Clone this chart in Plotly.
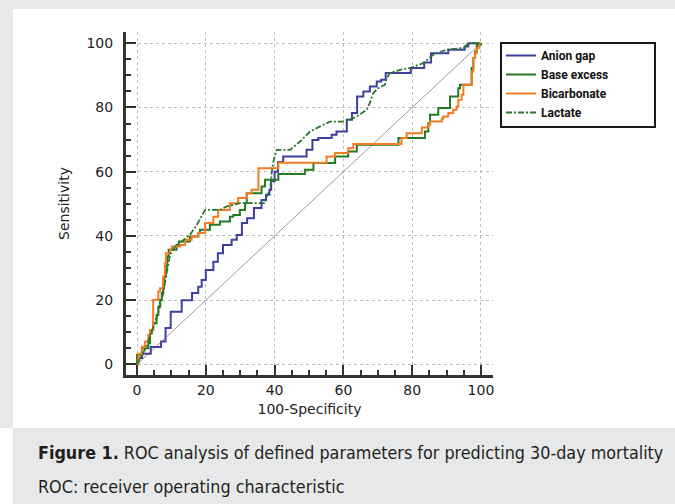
import plotly.graph_objects as go

# ---------------- data ----------------
anion_x = [0, 0, 1.5, 4, 7, 8.3, 9.8, 13, 16, 17.8, 18.8, 20, 22.2, 23.5, 25, 27.5, 29, 30.5, 32, 34,
           36.2, 37.5, 38.5, 39, 40, 41, 42.5, 49.3, 51, 52.7, 56.6, 58, 61, 62.5, 64, 65.8, 67.7, 69.7,
           71, 72.3, 79.6, 83.5, 85.5, 90.5, 95.3, 96.3, 100]
anion_y = [0, 2, 3.3, 5.4, 7.1, 11.3, 16.4, 20, 22.2, 24.2, 26.3, 29.4, 32, 34.6, 37.2, 38.8, 40.3, 44, 45.5, 48.7,
           51.2, 52.8, 54.4, 57, 60, 63, 64.7, 66.8, 69.9, 70.5, 71.5, 72.5, 76.2, 78.3, 83.4, 85, 86.5, 88.1,
           88.6, 90.7, 92.3, 94, 96.9, 98, 99, 100, 100]

base_x = [0, 0, 1.4, 3.3, 3.8, 4.3, 4.7, 5.7, 6.2, 6.7, 7.2, 7.6, 7.9, 8.4, 8.8, 9.2, 11.5, 12.2, 15.4, 17.8,
          18.3, 21.2, 24.1, 27, 28, 29.9, 31.4, 31.9, 36.2, 37.2, 41.1, 48.8, 51.3, 57.6, 61.4, 63.9, 76,
          83.7, 84.7, 85.2, 87.6, 91, 93.4, 93.9, 97.3, 97.8, 98.3, 98.8, 100]
base_y = [0, 3, 5, 6.6, 9.7, 10.7, 12.8, 15.4, 18, 20.1, 22.2, 24.2, 27.4, 30.5, 33.6, 35.7, 37.2, 38.3, 39.8, 40.9,
          41.9, 43.5, 44.5, 46, 46.5, 48.1, 50.2, 53.3, 55.4, 57.5, 59.3, 60.6, 62.7, 64.7, 66.3, 68.4, 70.5,
          72.5, 75.1, 77.7, 79.8, 83.4, 86, 87.1, 92.3, 95.4, 97.4, 99.5, 100]

bicarb_x = [0, 0.4, 1.4, 2.3, 3.3, 3.8, 4.7, 6.2, 6.7, 7.6, 8.1, 8.4, 9.6, 10.1, 12.5, 14, 15.9, 17.8, 19.8,
            22.2, 23.6, 27, 29.4, 31.9, 33.3, 35.3, 41.1, 55.1, 57.6, 61.4, 62.9, 76.9, 78.4, 82.8, 84.7, 85.2,
            88.6, 89, 90.5, 91.9, 92.9, 93.4, 94.4, 94.9, 97.3, 97.8, 98.3, 98.8, 99.5, 100]
bicarb_y = [0, 3.3, 5.5, 7.1, 9.2, 10.7, 20.1, 22.7, 23.7, 27.4, 31.5, 34.6, 35.7, 36.7, 37.2, 38.8, 39.8, 40.9, 44,
            46, 48.1, 50.2, 51.8, 53.3, 54.4, 61.1, 62.8, 64.7, 65.8, 67.3, 68.6, 70.5, 72, 73.8, 74.6, 75.6,
            76.5, 77.2, 78.3, 79.3, 80.3, 82.4, 84, 87.1, 91.2, 95.4, 96.9, 98.5, 100, 100]

lact_x = [0, 1, 1.8, 3, 3.8, 5.2, 6.7, 7.6, 8.6, 9.6, 11, 13.5, 15.4, 17.4, 18.8, 19.8, 24.1, 26.1, 29.9, 37.2,
          37.7, 38.7, 39.2, 39.6, 40.6, 44.5, 47.4, 50.3, 53.2, 56.1, 59.5, 61.9, 63.9, 66.8, 67.7, 68.7, 70.2,
          72.1, 72.6, 73.5, 76.5, 79.4, 83.2, 86.1, 90, 94.9, 96.3, 100]
lact_y = [0, 2, 3.5, 6, 9.2, 12.8, 18, 22.2, 28.4, 34.1, 36.7, 38.8, 40.3, 43.5, 46, 48.1, 48.1, 49.2, 50.2, 50.2,
          52.3, 54.4, 60, 63, 66.8, 66.8, 69.4, 72.5, 74.1, 75.6, 75.6, 76.2, 77.2, 79.3, 81.4, 84.5, 86,
          87.1, 89.1, 90.7, 91.7, 92.3, 93.8, 96.4, 98, 98.5, 100, 100]

diag = [0, 100]

series_names = ["Anion gap", "Base excess", "Bicarbonate", "Lactate"]

# ---------------- figure ----------------
W, H = 675, 504
L, R, T, B = 126, 182, 32, 129
PW, PH = W - L - R, H - T - B


def px(xp):
    return (xp - L) / PW


def py(yp):
    return (H - B - yp) / PH


fig = go.Figure()

fig.add_trace(go.Scatter(x=diag, y=diag, mode="lines", showlegend=False, hoverinfo="skip",
                         line=dict(color="#b48e96", width=1)))

fig.add_trace(go.Scatter(x=anion_x, y=anion_y, mode="lines", name=series_names[0],
                         line=dict(color="#3f3f9f", width=2, shape="hv")))
fig.add_trace(go.Scatter(x=base_x, y=base_y, mode="lines", name=series_names[1],
                         line=dict(color="#237a23", width=2, shape="hv")))
fig.add_trace(go.Scatter(x=bicarb_x, y=bicarb_y, mode="lines", name=series_names[2],
                         line=dict(color="#f47c22", width=2, shape="hv")))
fig.add_trace(go.Scatter(x=lact_x, y=lact_y, mode="lines", name=series_names[3],
                         line=dict(color="#2a7530", width=1.8, dash="6px,2px,2px,2px")))

tick_font = dict(family="DejaVu Sans, Liberation Sans, sans-serif", size=14, color="#222222")
axis_common = dict(
    showline=True, linecolor="#333333", linewidth=3,
    ticks="inside", ticklen=10, tickwidth=2, tickcolor="#333333",
    tick0=0, dtick=20,
    minor=dict(ticks="inside", ticklen=5, tickwidth=1.5, tickcolor="#333333", dtick=5, showgrid=False),
    showgrid=True, gridcolor="#bdbdbd", griddash="dot", gridwidth=1,
    zeroline=False,
    tickfont=tick_font,
    fixedrange=True,
)

fig.update_xaxes(range=[-3.2, 103.5], ticklabelstandoff=0, **axis_common,
                 title=dict(text="100-Specificity", standoff=8, font=tick_font))
fig.update_yaxes(range=[-3.3, 103.5], ticklabelstandoff=7, **axis_common,
                 title=dict(text="Sensitivity", standoff=14, font=tick_font))

shapes = [
    # light gray page surround
    dict(type="rect", xref="paper", yref="paper", x0=px(-5), x1=px(680), y0=py(428), y1=py(-5),
         line=dict(width=0), fillcolor="#e9e9e9", layer="below"),
    # white figure panel
    dict(type="rect", xref="paper", yref="paper", x0=px(13), x1=px(680), y0=py(428), y1=py(9),
         line=dict(width=0), fillcolor="white", layer="below"),
    # caption band
    dict(type="rect", xref="paper", yref="paper", x0=px(13), x1=px(680), y0=py(510), y1=py(428),
         line=dict(width=0), fillcolor="#e7e8e9", layer="below"),
    # legend frame
    dict(type="rect", xref="paper", yref="paper", x0=px(501), x1=px(655), y0=py(127), y1=py(43),
         line=dict(color="#1a1a1a", width=2), fillcolor="white", layer="above"),
]

cap_font = dict(family="DejaVu Sans Condensed, Liberation Sans, sans-serif", size=17.8, color="#231f20")
annotations = [
    dict(xref="paper", yref="paper", x=px(36), y=py(452), xanchor="left", yanchor="middle",
         showarrow=False, font=cap_font,
         text="<b>Figure 1.</b> ROC analysis of defined parameters for predicting 30-day mortality"),
    dict(xref="paper", yref="paper", x=px(36), y=py(486), xanchor="left", yanchor="middle",
         showarrow=False, font=cap_font,
         text="ROC: receiver operating characteristic"),
]

fig.update_layout(
    width=W, height=H,
    margin=dict(l=L, r=R, t=T, b=B, autoexpand=False),
    paper_bgcolor="white", plot_bgcolor="white",
    showlegend=True,
    legend=dict(x=px(501), y=py(41), xanchor="left", yanchor="top",
                bgcolor="rgba(0,0,0,0)", borderwidth=0,
                font=dict(family="Roboto, Lato, sans-serif", size=12, color="#111111"),
                tracegroupgap=0, itemwidth=30,
                traceorder="normal"),
    shapes=shapes,
    annotations=annotations,
)

for tr in fig.data[1:]:
    tr.name = "<b>" + tr.name + "</b>"

fig.write_html("out.html", config={"displayModeBar": False},
               post_script="document.body.style.margin='0';")
